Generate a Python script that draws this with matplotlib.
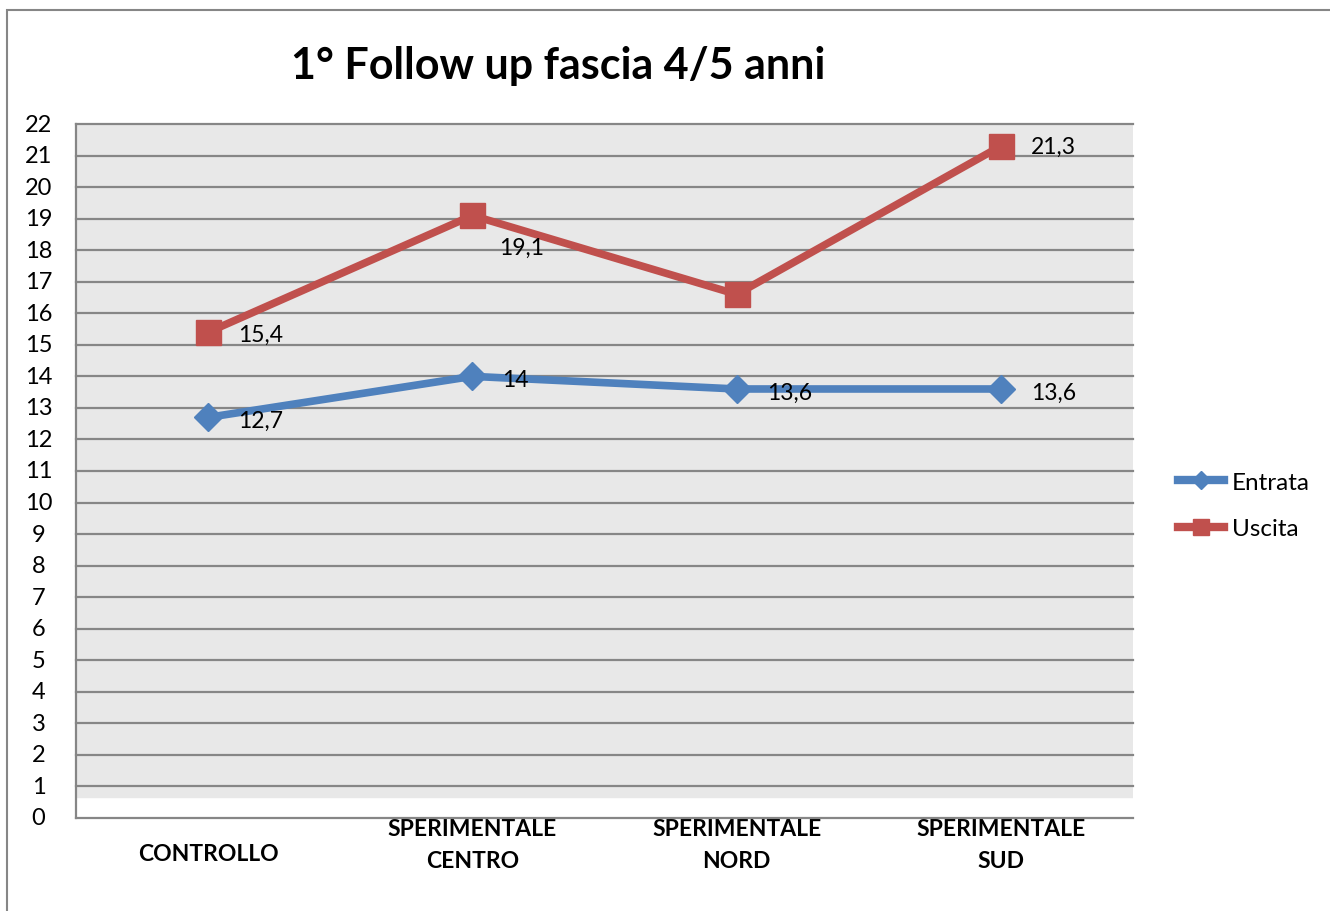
import matplotlib.pyplot as plt
import matplotlib.transforms as mtransforms
from matplotlib.patches import Rectangle

plt.rcParams['font.family'] = ['Lato', 'DejaVu Sans']

categories = ['CONTROLLO', 'SPERIMENTALE\nCENTRO', 'SPERIMENTALE\nNORD', 'SPERIMENTALE\nSUD']
entrata = [12.7, 14.0, 13.6, 13.6]
uscita = [15.4, 19.1, 16.6, 21.3]
entrata_labels = ['12,7', '14', '13,6', '13,6']
uscita_labels = ['15,4', '19,1', None, '21,3']

fig = plt.figure(figsize=(13.3, 9.12), dpi=100)
ax = fig.add_axes([76/1330, 1 - 819/912, (1133-76)/1330, (819-125)/912])

# outer chart border
fig.patches.append(Rectangle((7/1330, -0.01), 1.0, 1 - 11/912 + 0.01, transform=fig.transFigure,
                             fill=False, edgecolor='#868686', linewidth=1.5))

x = list(range(len(categories)))
ax.set_xlim(-0.5, 3.5)
ax.set_ylim(0, 22)
ax.set_facecolor('white')
ax.axhspan(0.68, 22, color='#e8e8e8', zorder=0)
for v in range(1, 23):
    ax.axhline(v, color='#868686', linewidth=1.6, zorder=1, clip_on=False)

ax.plot(x, entrata, color='#4f81bd', linewidth=5.5, marker='D', markersize=14,
        label='Entrata', zorder=3)
ax.plot(x, uscita, color='#c0504d', linewidth=5.5, marker='s', markersize=18,
        label='Uscita', zorder=3)

for xi, v, t in zip(x, entrata, entrata_labels):
    ax.annotate(t, (xi, v), xytext=(30, -3), textcoords='offset pixels',
                fontsize=16.5, va='center', ha='left', zorder=4)
u_off = [(30, -2), (27, -32), None, (30, 0)]
for xi, v, t, o in zip(x, uscita, uscita_labels, u_off):
    if t is None:
        continue
    ax.annotate(t, (xi, v), xytext=o, textcoords='offset pixels',
                fontsize=16.5, va='center', ha='left', zorder=4)

ax.set_yticks(range(0, 23))
ax.set_yticklabels([str(v) for v in range(0, 23)], fontsize=17)
ax.tick_params(axis='y', length=0, pad=27)
shift = mtransforms.ScaledTranslation(0, 2/100, fig.dpi_scale_trans)
for lbl in ax.get_yticklabels():
    lbl.set_horizontalalignment('center')
    lbl.set_transform(lbl.get_transform() + shift)
ax.set_xticks(x)
ax.set_xticklabels(categories, fontsize=16.5, fontweight='bold', linespacing=1.65)
ax.tick_params(axis='x', length=0, pad=0)
for lbl in ax.get_xticklabels()[:1]:
    lbl.set_y(-0.036)

for s in ['top', 'right']:
    ax.spines[s].set_visible(False)
for s in ['left', 'bottom']:
    ax.spines[s].set_color('#868686')
    ax.spines[s].set_linewidth(1.6)

fig.text(558/1330, 1 - 66/912, '1° Follow up fascia 4/5 anni', fontsize=31,
         fontweight='bold', ha='center', va='center')

leg = ax.legend(loc='center left', bbox_to_anchor=(1.022, 0.45), frameon=False,
                fontsize=17.5, handlelength=1.9, handletextpad=0.3, labelspacing=1.05,
                markerscale=0.65)
for h in leg.get_lines():
    h.set_linewidth(6)

fig.savefig('out.png', dpi=100)
